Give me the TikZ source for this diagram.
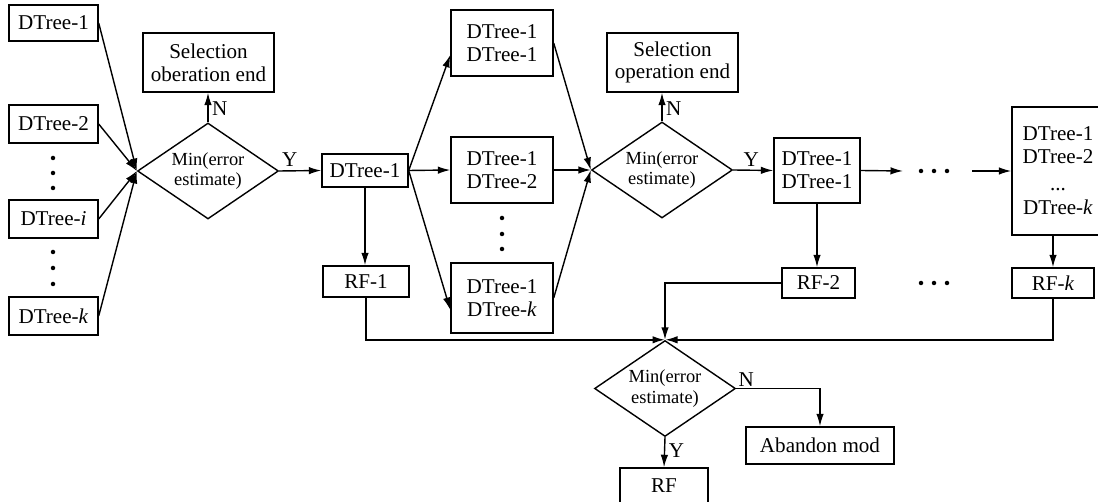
\documentclass[tikz,border=0pt]{standalone}
\usepackage{fontspec}
\setmainfont{Liberation Serif}
\usetikzlibrary{shapes.geometric, arrows.meta, positioning}

\begin{document}
\begin{tikzpicture}[
    x=0.02cm, y=-0.02cm,
    box/.style={draw, line width=0.8pt, inner sep=1pt, align=center,
                font=\fontsize{12}{13}\selectfont},
    decision/.style={draw, diamond, aspect=1.5, line width=0.8pt, inner sep=0pt,
                minimum width=2.82cm, minimum height=1.92cm, align=center,
                font=\fontsize{10.5}{11.5}\selectfont},
    arrow/.style={-{Latex[length=2.5mm, width=1.5mm]}, line width=0.8pt},
    merge/.style={arrow, line width=1.1pt},
    lbl/.style={font=\fontsize{12}{13}\selectfont, inner sep=2pt}
]
    \useasboundingbox (0,0) rectangle (1098,502);
    \clip (0,0) rectangle (1098,502);

    % left column of single trees
    \node[box, minimum width=1.78cm, minimum height=0.72cm] (t1) at (53.5,23) {DTree-1};
    \node[box, minimum width=1.78cm, minimum height=0.76cm] (t2) at (53.5,124) {DTree-2};
    \node[box, minimum width=1.78cm, minimum height=0.76cm] (ti) at (53.5,219) {DTree-\textit{i}};
    \node[box, minimum width=1.78cm, minimum height=0.76cm] (tk) at (53.5,316) {DTree-\textit{k}};
    \foreach \y in {158,173,188,252,268,284}
        \fill (53,\y) circle[radius=0.045cm];

    % first selection step
    \node[decision] (d1) at (208,171) {Min(error\\estimate)};
    \node[box, minimum width=2.62cm, minimum height=1.18cm] (sel1) at (208.5,62.5) {Selection\\oberation end};
    \node[box, minimum width=1.72cm, minimum height=0.66cm] (dt) at (365,170.5) {DTree-1};
    \node[box, minimum width=1.72cm, minimum height=0.62cm] (rf1) at (366,281.5) {RF-1};

    % pairs of trees
    \node[box, minimum width=2.04cm, minimum height=1.32cm] (p1) at (502,43) {DTree-1\\DTree-1};
    \node[box, minimum width=2.04cm, minimum height=1.32cm] (p2) at (502,170) {DTree-1\\DTree-2};
    \node[box, minimum width=2.04cm, minimum height=1.40cm] (pk) at (502,298) {DTree-1\\DTree-\textit{k}};
    \foreach \y in {218,234,249}
        \fill (502,\y) circle[radius=0.045cm];

    % second selection step
    \node[decision] (d2) at (662,170) {Min(error\\estimate)};
    \node[box, minimum width=2.62cm, minimum height=1.18cm] (sel2) at (672.5,62.5) {Selection\\operation end};
    \node[box, minimum width=1.72cm, minimum height=1.30cm] (q2) at (817,170.5) {DTree-1\\DTree-1};
    \node[box, minimum width=1.46cm, minimum height=0.60cm] (rf2) at (818.5,283) {RF-2};
    \coordinate (c1) at (903,171);
    \coordinate (c2) at (972,171);
    \foreach \x in {921,934,947} {
        \fill (\x,171) circle[radius=0.045cm];
        \fill (\x,283) circle[radius=0.045cm];
    }

    % last step
    \node[box, minimum width=1.84cm, minimum height=2.56cm] (qk) at (1058,171)
        {DTree-1\\DTree-2\\[2pt]...\\[1pt]DTree-\textit{k}};
    \node[box, minimum width=1.64cm, minimum height=0.60cm] (rfk) at (1053,283) {RF-\textit{k}};

    % final decision
    \node[decision] (d3) at (665,388.5) {Min(error\\estimate)};
    \coordinate (j) at (d3.north);
    \node[box, minimum width=2.96cm, minimum height=0.74cm] (ab) at (820,445.5) {Abandon mod};
    \node[box, minimum width=1.76cm, minimum height=0.70cm] (rf) at (664,485.5) {RF};

    % connectors
    \foreach \t in {t1,t2,ti,tk}
        \draw[arrow] (\t.east) -- (d1.west);
    \draw[arrow] (d1.north) -- node[lbl, right, pos=0.45] {N} (d1.north |- sel1.south);
    \draw[arrow] (d1.east) -- node[lbl, above, pos=0.25] {Y} (dt.west);
    \draw[arrow] (dt.south) -- (dt.south |- rf1.north);

    \draw[arrow] (dt.east) -- (p1.193);
    \draw[arrow] (dt.east) -- (p2.west);
    \draw[arrow] (dt.east) -- (pk.193);
    \foreach \p in {p1,p2,pk}
        \draw[arrow] (\p.east) -- (d2.west);

    \draw[arrow] (d2.north) -- node[lbl, right, pos=0.45] {N} (d2.north |- sel2.south);
    \draw[arrow] (d2.east) -- node[lbl, above, pos=0.45] {Y} (q2.west);
    \draw[arrow] (q2.east) -- (c1);
    \draw[arrow] (c2) -- (qk.west);
    \draw[arrow] (q2.south) -- (q2.south |- rf2.north);
    \draw[arrow] (rfk.north |- qk.south) -- (rfk.north);

    \draw[merge] (rf1.south) |- (j);
    \draw[merge] (rfk.south) |- (j);
    \draw[arrow] (rf2.west) -| (j);

    \draw[arrow] (d3.south) -- node[lbl, right, pos=0.45] {Y} (rf.north);
    \draw[arrow] (d3.east) -| node[lbl, above right, pos=0, inner sep=1pt] {N} (ab.north);
\end{tikzpicture}
\end{document}
